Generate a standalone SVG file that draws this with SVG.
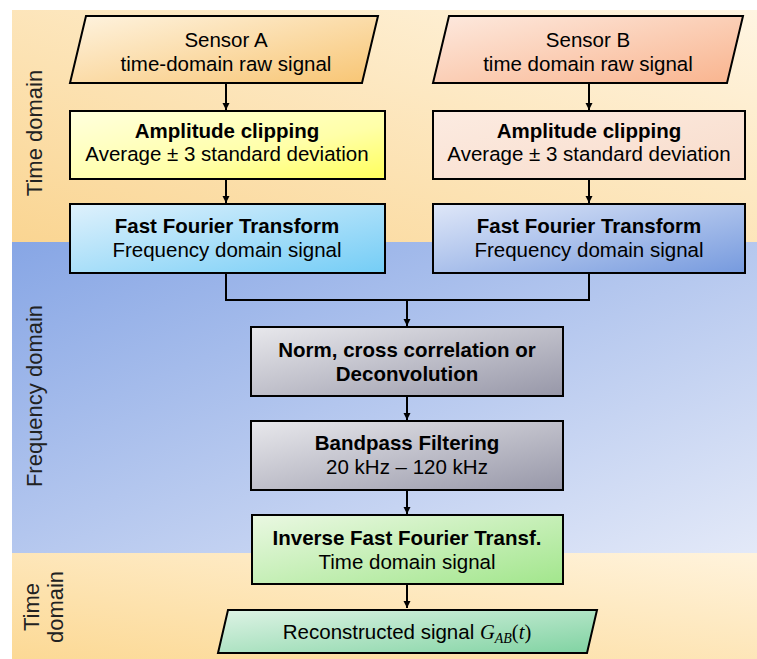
<svg xmlns="http://www.w3.org/2000/svg" width="757" height="659" viewBox="0 0 757 659">
<defs>
<linearGradient id="bgTop" x1="0" y1="1" x2="1" y2="0"><stop offset="0" stop-color="#fad592"/><stop offset="1" stop-color="#fff5e2"/></linearGradient>
<linearGradient id="bgMid" x1="0" y1="0" x2="1" y2="1"><stop offset="0" stop-color="#87a6e5"/><stop offset="1" stop-color="#e3e9f8"/></linearGradient>
<linearGradient id="bgBot" x1="0" y1="1" x2="1" y2="0"><stop offset="0" stop-color="#fcd995"/><stop offset="1" stop-color="#fff3dc"/></linearGradient>
<linearGradient id="gSA" x1="0" y1="0" x2="1" y2="1"><stop offset="0" stop-color="#fef3df"/><stop offset="1" stop-color="#f8c573"/></linearGradient>
<linearGradient id="gAA" x1="0" y1="0" x2="1" y2="1"><stop offset="0" stop-color="#ffffde"/><stop offset="0.6" stop-color="#ffffa8"/><stop offset="1" stop-color="#ffff5c"/></linearGradient>
<linearGradient id="gFA" x1="0" y1="0" x2="1" y2="1"><stop offset="0" stop-color="#dff1fc"/><stop offset="1" stop-color="#74cdf6"/></linearGradient>
<linearGradient id="gSB" x1="0" y1="0" x2="1" y2="1"><stop offset="0" stop-color="#fde9de"/><stop offset="1" stop-color="#f9b48e"/></linearGradient>
<linearGradient id="gAB" x1="0" y1="0" x2="1" y2="1"><stop offset="0" stop-color="#fcebe1"/><stop offset="1" stop-color="#f8dccb"/></linearGradient>
<linearGradient id="gFB" x1="0" y1="0" x2="1" y2="1"><stop offset="0" stop-color="#dfe7f8"/><stop offset="1" stop-color="#769ade"/></linearGradient>
<linearGradient id="gGr" x1="0" y1="0" x2="1" y2="1"><stop offset="0" stop-color="#e8e8ec"/><stop offset="1" stop-color="#9797a8"/></linearGradient>
<linearGradient id="gIF" x1="0" y1="0" x2="1" y2="1"><stop offset="0" stop-color="#eaf8e2"/><stop offset="1" stop-color="#a2e68c"/></linearGradient>
<linearGradient id="gOut" x1="0" y1="0" x2="1" y2="1"><stop offset="0" stop-color="#def3e5"/><stop offset="1" stop-color="#80d3a2"/></linearGradient>
<marker id="arr" markerUnits="userSpaceOnUse" markerWidth="8" markerHeight="8" refX="7" refY="3.5" orient="auto"><path d="M0,0 L7,3.5 L0,7 z" fill="#000"/></marker>
</defs>
<style>
.box{stroke:#000;stroke-width:2}
.t{font-family:"Liberation Sans",Arial,sans-serif;font-size:20.5px;fill:#000;text-anchor:middle}
.b{font-weight:bold}
.side{font-family:"Liberation Sans",Arial,sans-serif;font-size:22px;fill:#222;text-anchor:middle}
.c{fill:none;stroke:#000;stroke-width:2}
.m{font-family:"Liberation Serif","Times New Roman",serif;font-style:italic}
</style>
<g id="background">
<rect x="12" y="10" width="745" height="232" fill="url(#bgTop)"/>
<rect x="12" y="242" width="745" height="311" fill="url(#bgMid)"/>
<rect x="12" y="553" width="745" height="106" fill="url(#bgBot)"/>
<text class="side" transform="translate(42,133) rotate(-90)">Time domain</text>
<text class="side" transform="translate(42,396) rotate(-90)">Frequency domain</text>
<text class="side" transform="translate(39,607) rotate(-90)">Time</text>
<text class="side" transform="translate(63,607) rotate(-90)">domain</text>
</g>
<g id="connectors">
<line class="c" x1="226" y1="83" x2="226" y2="110" marker-end="url(#arr)"/>
<line class="c" x1="226" y1="179" x2="226" y2="203" marker-end="url(#arr)"/>
<line class="c" x1="589" y1="83" x2="589" y2="110" marker-end="url(#arr)"/>
<line class="c" x1="589" y1="179" x2="589" y2="203" marker-end="url(#arr)"/>
<polyline class="c" points="226,273 226,300 589,300 589,273"/>
<line class="c" x1="407" y1="300" x2="407" y2="326" marker-end="url(#arr)"/>
<line class="c" x1="407" y1="396" x2="407" y2="420" marker-end="url(#arr)"/>
<line class="c" x1="407" y1="490" x2="407" y2="514" marker-end="url(#arr)"/>
<line class="c" x1="407" y1="584" x2="407" y2="608" marker-end="url(#arr)"/>
</g>
<g id="sensorA">
<polygon class="box" points="86,16 378,16 362,83 70,83" fill="url(#gSA)"/>
<text class="t" x="226" y="47">Sensor A</text>
<text class="t" x="226" y="71">time-domain raw signal</text>
</g>
<g id="clipA">
<rect class="box" x="70" y="111" width="315" height="68" fill="url(#gAA)"/>
<text class="t b" x="227" y="138">Amplitude clipping</text>
<text class="t" x="227" y="161">Average ± 3 standard deviation</text>
</g>
<g id="fftA">
<rect class="box" x="70" y="204" width="315" height="69" fill="url(#gFA)"/>
<text class="t b" x="227" y="233">Fast Fourier Transform</text>
<text class="t" x="227" y="257">Frequency domain signal</text>
</g>
<g id="sensorB">
<polygon class="box" points="449,16 743,16 727,83 433,83" fill="url(#gSB)"/>
<text class="t" x="588" y="47">Sensor B</text>
<text class="t" x="588" y="71">time domain raw signal</text>
</g>
<g id="clipB">
<rect class="box" x="433" y="111" width="312" height="68" fill="url(#gAB)"/>
<text class="t b" x="589" y="138">Amplitude clipping</text>
<text class="t" x="589" y="161">Average ± 3 standard deviation</text>
</g>
<g id="fftB">
<rect class="box" x="433" y="204" width="312" height="69" fill="url(#gFB)"/>
<text class="t b" x="589" y="233">Fast Fourier Transform</text>
<text class="t" x="589" y="257">Frequency domain signal</text>
</g>
<g id="norm">
<rect class="box" x="251" y="327" width="312" height="69" fill="url(#gGr)"/>
<text class="t b" x="407" y="357">Norm, cross correlation or</text>
<text class="t b" x="407" y="381">Deconvolution</text>
</g>
<g id="bandpass">
<rect class="box" x="251" y="421" width="312" height="69" fill="url(#gGr)"/>
<text class="t b" x="407" y="450">Bandpass Filtering</text>
<text class="t" x="407" y="474">20 kHz – 120 kHz</text>
</g>
<g id="ifft">
<rect class="box" x="252" y="515" width="311" height="69" fill="url(#gIF)"/>
<text class="t b" x="407" y="545">Inverse Fast Fourier Transf.</text>
<text class="t" x="407" y="569">Time domain signal</text>
</g>
<g id="output">
<polygon class="box" points="228,610 597,610 587,653 218,653" fill="url(#gOut)"/>
<text class="t" x="407" y="639">Reconstructed signal <tspan class="m">G</tspan><tspan class="m" font-size="14" dy="4">AB</tspan><tspan font-family="Liberation Serif,serif" dy="-4">(</tspan><tspan class="m">t</tspan><tspan font-family="Liberation Serif,serif">)</tspan></text>
</g>
</svg>
